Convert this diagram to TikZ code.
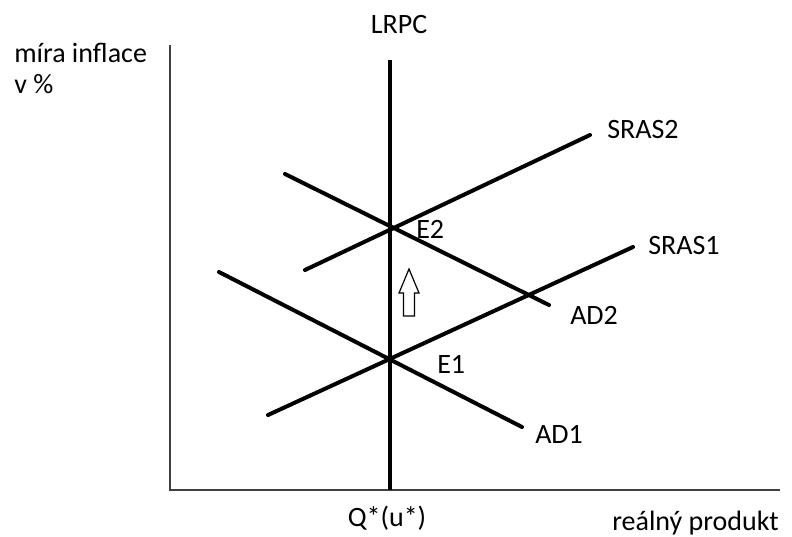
\documentclass[tikz,border=0pt]{standalone}
\usepackage{fontspec}
\setmainfont{Carlito}
\usepackage{tikz}

\tikzset{
  curve/.style={line width=3pt, line cap=round},
  axisline/.style={draw={rgb, 255:red, 64; green, 64; blue, 64}, line width=1.5pt},
  lbl/.style={inner sep=0.75pt, font=\fontsize{21}{25}\selectfont}
}

\begin{document}
\begin{tikzpicture}[x=0.75pt,y=0.75pt,yscale=-1,xscale=1]
\useasboundingbox (0,0) rectangle (792,536);

%Axes
\coordinate (ytop) at (170,45);
\coordinate (orig) at (170,490);
\coordinate (xend) at (780,490);
\draw [axisline] (ytop) -- (orig) -- (xend);

%Straight Lines
\coordinate (lrpcT) at (390,60);
\coordinate (lrpcB) at (390,490);
\draw [line width=3pt] (lrpcT) -- (lrpcB);
%Straight Lines
\coordinate (sras2a) at (305,270);
\coordinate (sras2b) at (590,135);
\draw [curve] (sras2a) -- (sras2b);
%Straight Lines
\coordinate (ad2a) at (285,174);
\coordinate (ad2b) at (549,305);
\draw [curve] (ad2a) -- (ad2b);
%Straight Lines
\coordinate (sras1a) at (268,415);
\coordinate (sras1b) at (633,247);
\draw [curve] (sras1a) -- (sras1b);
%Straight Lines
\coordinate (ad1a) at (219,272);
\coordinate (ad1b) at (522,427);
\draw [curve] (ad1a) -- (ad1b);

%Shape: Up Arrow
\draw [line width=0.9pt] (403.5,316) -- (403.5,293) -- (399,293) -- (409,269) -- (419,293) -- (414.5,293) -- (414.5,316) -- cycle;

% Text Node
\node [lbl, anchor=west] (yname) at (13,53) {míra inflace};
% Text Node
\node [lbl, anchor=west] (yunit) at (13,84) {v \%};
% Text Node
\node [lbl] (lrpc) at (399,25) {LRPC};
% Text Node
\node [lbl, anchor=west] (sras2) at (606,130) {SRAS2};
% Text Node
\node [lbl, anchor=west] (sras1) at (647,246) {SRAS1};
% Text Node
\node [lbl, anchor=west] (ad2) at (569,315) {AD2};
% Text Node
\node [lbl, anchor=west] (ad1) at (534,434) {AD1};
% Text Node
\node [lbl, anchor=west] (e2) at (415,229) {E2};
% Text Node
\node [lbl, anchor=west] (e1) at (436,364) {E1};
% Text Node
\node [lbl] (qstar) at (387,518) {Q*(u*)};
% Text Node
\node [lbl, anchor=west] (xname) at (611,523) {reálný produkt};

\end{tikzpicture}
\end{document}
